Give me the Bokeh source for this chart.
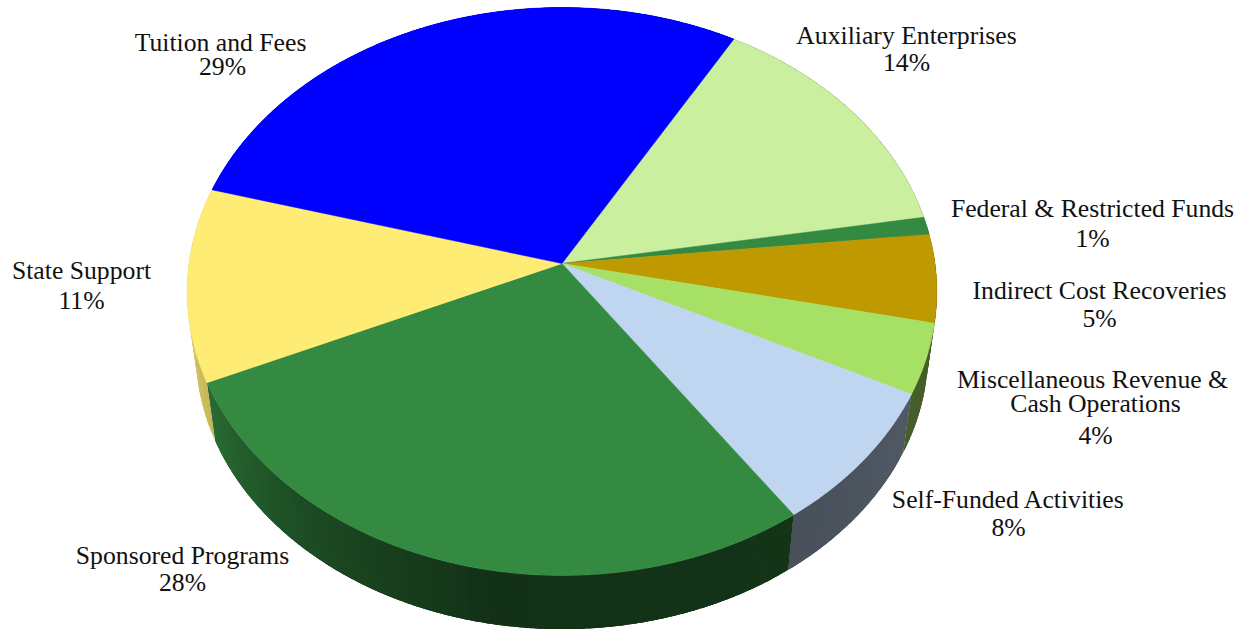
import numpy as np
from bokeh.plotting import figure
from bokeh.models import Range1d, ColumnDataSource
from bokeh.core.properties import value
from bokeh.embed import file_html
from bokeh.resources import INLINE

categories = ["Auxiliary Enterprises", "Federal & Restricted Funds", "Indirect Cost Recoveries",
              "Miscellaneous Revenue & Cash Operations", "Self-Funded Activities",
              "Sponsored Programs", "State Support", "Tuition and Fees"]
percent = [14, 1, 5, 4, 8, 28, 11, 29]
colors = ["#c9ef9f", "#358a41", "#bf9900", "#a6e065", "#bfd5f0", "#358a41", "#ffec75", "#0000ff"]

label_lines = [["Auxiliary Enterprises"], ["Federal & Restricted Funds"], ["Indirect Cost Recoveries"],
               ["Miscellaneous Revenue &", "Cash Operations"], ["Self-Funded Activities"],
               ["Sponsored Programs"], ["State Support"], ["Tuition and Fees"]]
label_x = [[906], [1092], [1099], [1092, 1095], [1008], [182], [81], [220]]
label_y = [[34.5], [207.5], [289.5], [378.5, 402.5], [498.5], [554.5], [269.5], [41.5]]
pct_x = [906, 1092, 1099, 1095, 1008, 182, 81, 222]
pct_y = [61.5, 237.5, 317.5, 434.5, 526.5, 581.5, 299.5, 65.5]

# projection of the tilted disc onto the page
CX, CY, R, AY, C = 561.5, 263.0, 373.0, 255.3, 0.0986
START_DEG = 30.0
VPY, DEPTH = 2906.0, 0.977
SH_A = [0, 116, 145, 190, 220, 246, 262, 360]
SH_F = [.42, .42, .38, .36, .55, .78, .85, .85]


def rim(deg):
    t = np.radians(deg)
    u, v = np.sin(t), np.cos(t)
    d = 1 + C * v
    return CX + R * u / d, (CY - AY * v) / d


def lower(x, y):
    return CX + (x - CX) * DEPTH, VPY - (VPY - y) * DEPTH


def shade(hexc, f):
    r, g, b = [int(hexc[i:i + 2], 16) for i in (1, 3, 5)]
    return "#%02x%02x%02x" % (int(r * f), int(g * f), int(b * f))


wx, wy, wc, tx, ty, tc = [], [], [], [], [], []
a0 = START_DEG
for pct, col in zip(percent, colors):
    a1 = a0 + pct * 3.6
    n = max(2, int(round((a1 - a0) / 1.5)) + 1)
    angs = np.linspace(a0, a1, n)
    for s in angs[:-1]:
        # each strip runs on to the slice's end; the next one paints over it, so no seams show
        arc = np.linspace(s, min(s + 4.0, a1), 8)
        rx, ry = rim(arc)
        lx, ly = lower(rx, ry)
        wx.append(list(rx) + list(lx[::-1]))
        wy.append(list(ry) + list(ly[::-1]))
        wc.append(shade(col, float(np.interp((s + 0.75) % 360, SH_A, SH_F))))
    fine = np.linspace(a0, a1, max(3, int((a1 - a0) * 2)))
    fx, fy = rim(fine)
    tx.append([CX] + list(fx))
    ty.append([CY] + list(fy))
    tc.append(col)
    a0 = a1

p = figure(width=1251, height=629, output_backend="svg", toolbar_location=None,
           x_range=Range1d(0, 1251), y_range=Range1d(629, 0), min_border=0,
           outline_line_color=None, background_fill_color="white", border_fill_color="white")
p.xaxis.visible = False
p.yaxis.visible = False
p.xgrid.visible = False
p.ygrid.visible = False
p.styles = {"position": "absolute", "left": "0", "top": "0"}

p.patches("x", "y", source=ColumnDataSource(dict(x=wx, y=wy, c=wc)),
          fill_color="c", line_color=None)
p.patches("x", "y", source=ColumnDataSource(dict(x=tx, y=ty, c=tc)),
          fill_color="c", line_color="c", line_width=0.5)

tex, tey, tet = [], [], []
for lines, xs, ys, pct, px, py in zip(label_lines, label_x, label_y, percent, pct_x, pct_y):
    for s, x, y in zip(lines, xs, ys):
        tex.append(x); tey.append(y); tet.append(s)
    tex.append(px); tey.append(py); tet.append(f"{pct}%")
p.text("x", "y", text="t", source=ColumnDataSource(dict(x=tex, y=tey, t=tet)),
       text_font=value("Liberation Serif"), text_font_size="25.7px", text_color="#111111",
       text_align="center", text_baseline="middle")

open("out.html", "w").write(file_html(p, INLINE))
